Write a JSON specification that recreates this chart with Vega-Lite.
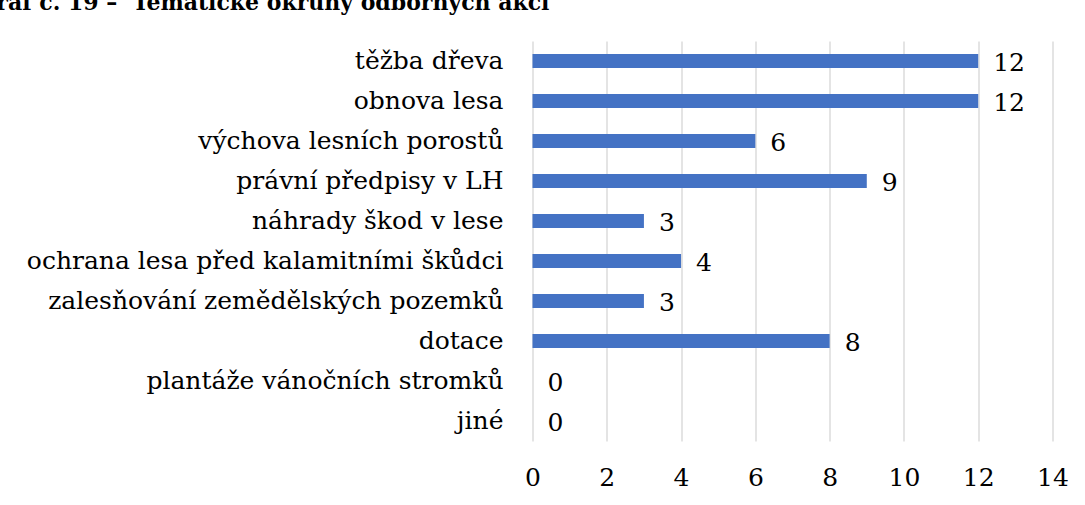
{
  "$schema": "https://vega.github.io/schema/vega-lite/v6.json",
  "autosize": {"type": "none"},
  "padding": {"left": 532.5, "top": 41, "right": 32.5, "bottom": 64},
  "width": 520,
  "height": 400,
  "background": "white",
  "title": {
    "text": "Graf č. 19 –\u00a0 Tematické okruhy odborných akcí",
    "anchor": "start",
    "frame": "group",
    "orient": "top",
    "baseline": "alphabetic",
    "offset": 9,
    "dx": -555,
    "font": "DejaVu Serif",
    "fontSize": 22,
    "fontWeight": "bold",
    "color": "black"
  },
  "data": {
    "values": [
      {"okruh": "těžba dřeva", "pocet": 12},
      {"okruh": "obnova lesa", "pocet": 12},
      {"okruh": "výchova lesních porostů", "pocet": 6},
      {"okruh": "právní předpisy v LH", "pocet": 9},
      {"okruh": "náhrady škod v lese", "pocet": 3},
      {"okruh": "ochrana lesa před kalamitními škůdci", "pocet": 4},
      {"okruh": "zalesňování zemědělských pozemků", "pocet": 3},
      {"okruh": "dotace", "pocet": 8},
      {"okruh": "plantáže vánočních stromků", "pocet": 0},
      {"okruh": "jiné", "pocet": 0}
    ]
  },
  "encoding": {
    "y": {
      "field": "okruh",
      "type": "nominal",
      "sort": null,
      "scale": {"paddingInner": 0.65, "paddingOuter": 0.325},
      "axis": {
        "title": null,
        "domain": false,
        "ticks": false,
        "labelFont": "DejaVu Serif",
        "labelFontSize": 25,
        "labelColor": "black",
        "labelPadding": 29.5,
        "labelLimit": 600
      }
    },
    "x": {
      "field": "pocet",
      "type": "quantitative",
      "scale": {"domain": [0, 14]},
      "axis": {
        "title": null,
        "values": [0, 2, 4, 6, 8, 10, 12, 14],
        "domain": false,
        "ticks": false,
        "grid": true,
        "gridColor": "#d9d9d9",
        "gridWidth": 1.4,
        "labelFont": "DejaVu Serif",
        "labelFontSize": 25,
        "labelColor": "black",
        "labelPadding": 24,
        "labelFlush": false
      }
    }
  },
  "layer": [
    {"mark": {"type": "bar", "color": "#4472C4"}},
    {
      "mark": {
        "type": "text",
        "align": "left",
        "baseline": "middle",
        "dx": 15,
        "dy": 2,
        "font": "DejaVu Serif",
        "fontSize": 25,
        "color": "black"
      },
      "encoding": {"text": {"field": "pocet", "type": "quantitative"}}
    }
  ],
  "config": {"view": {"stroke": null}}
}
